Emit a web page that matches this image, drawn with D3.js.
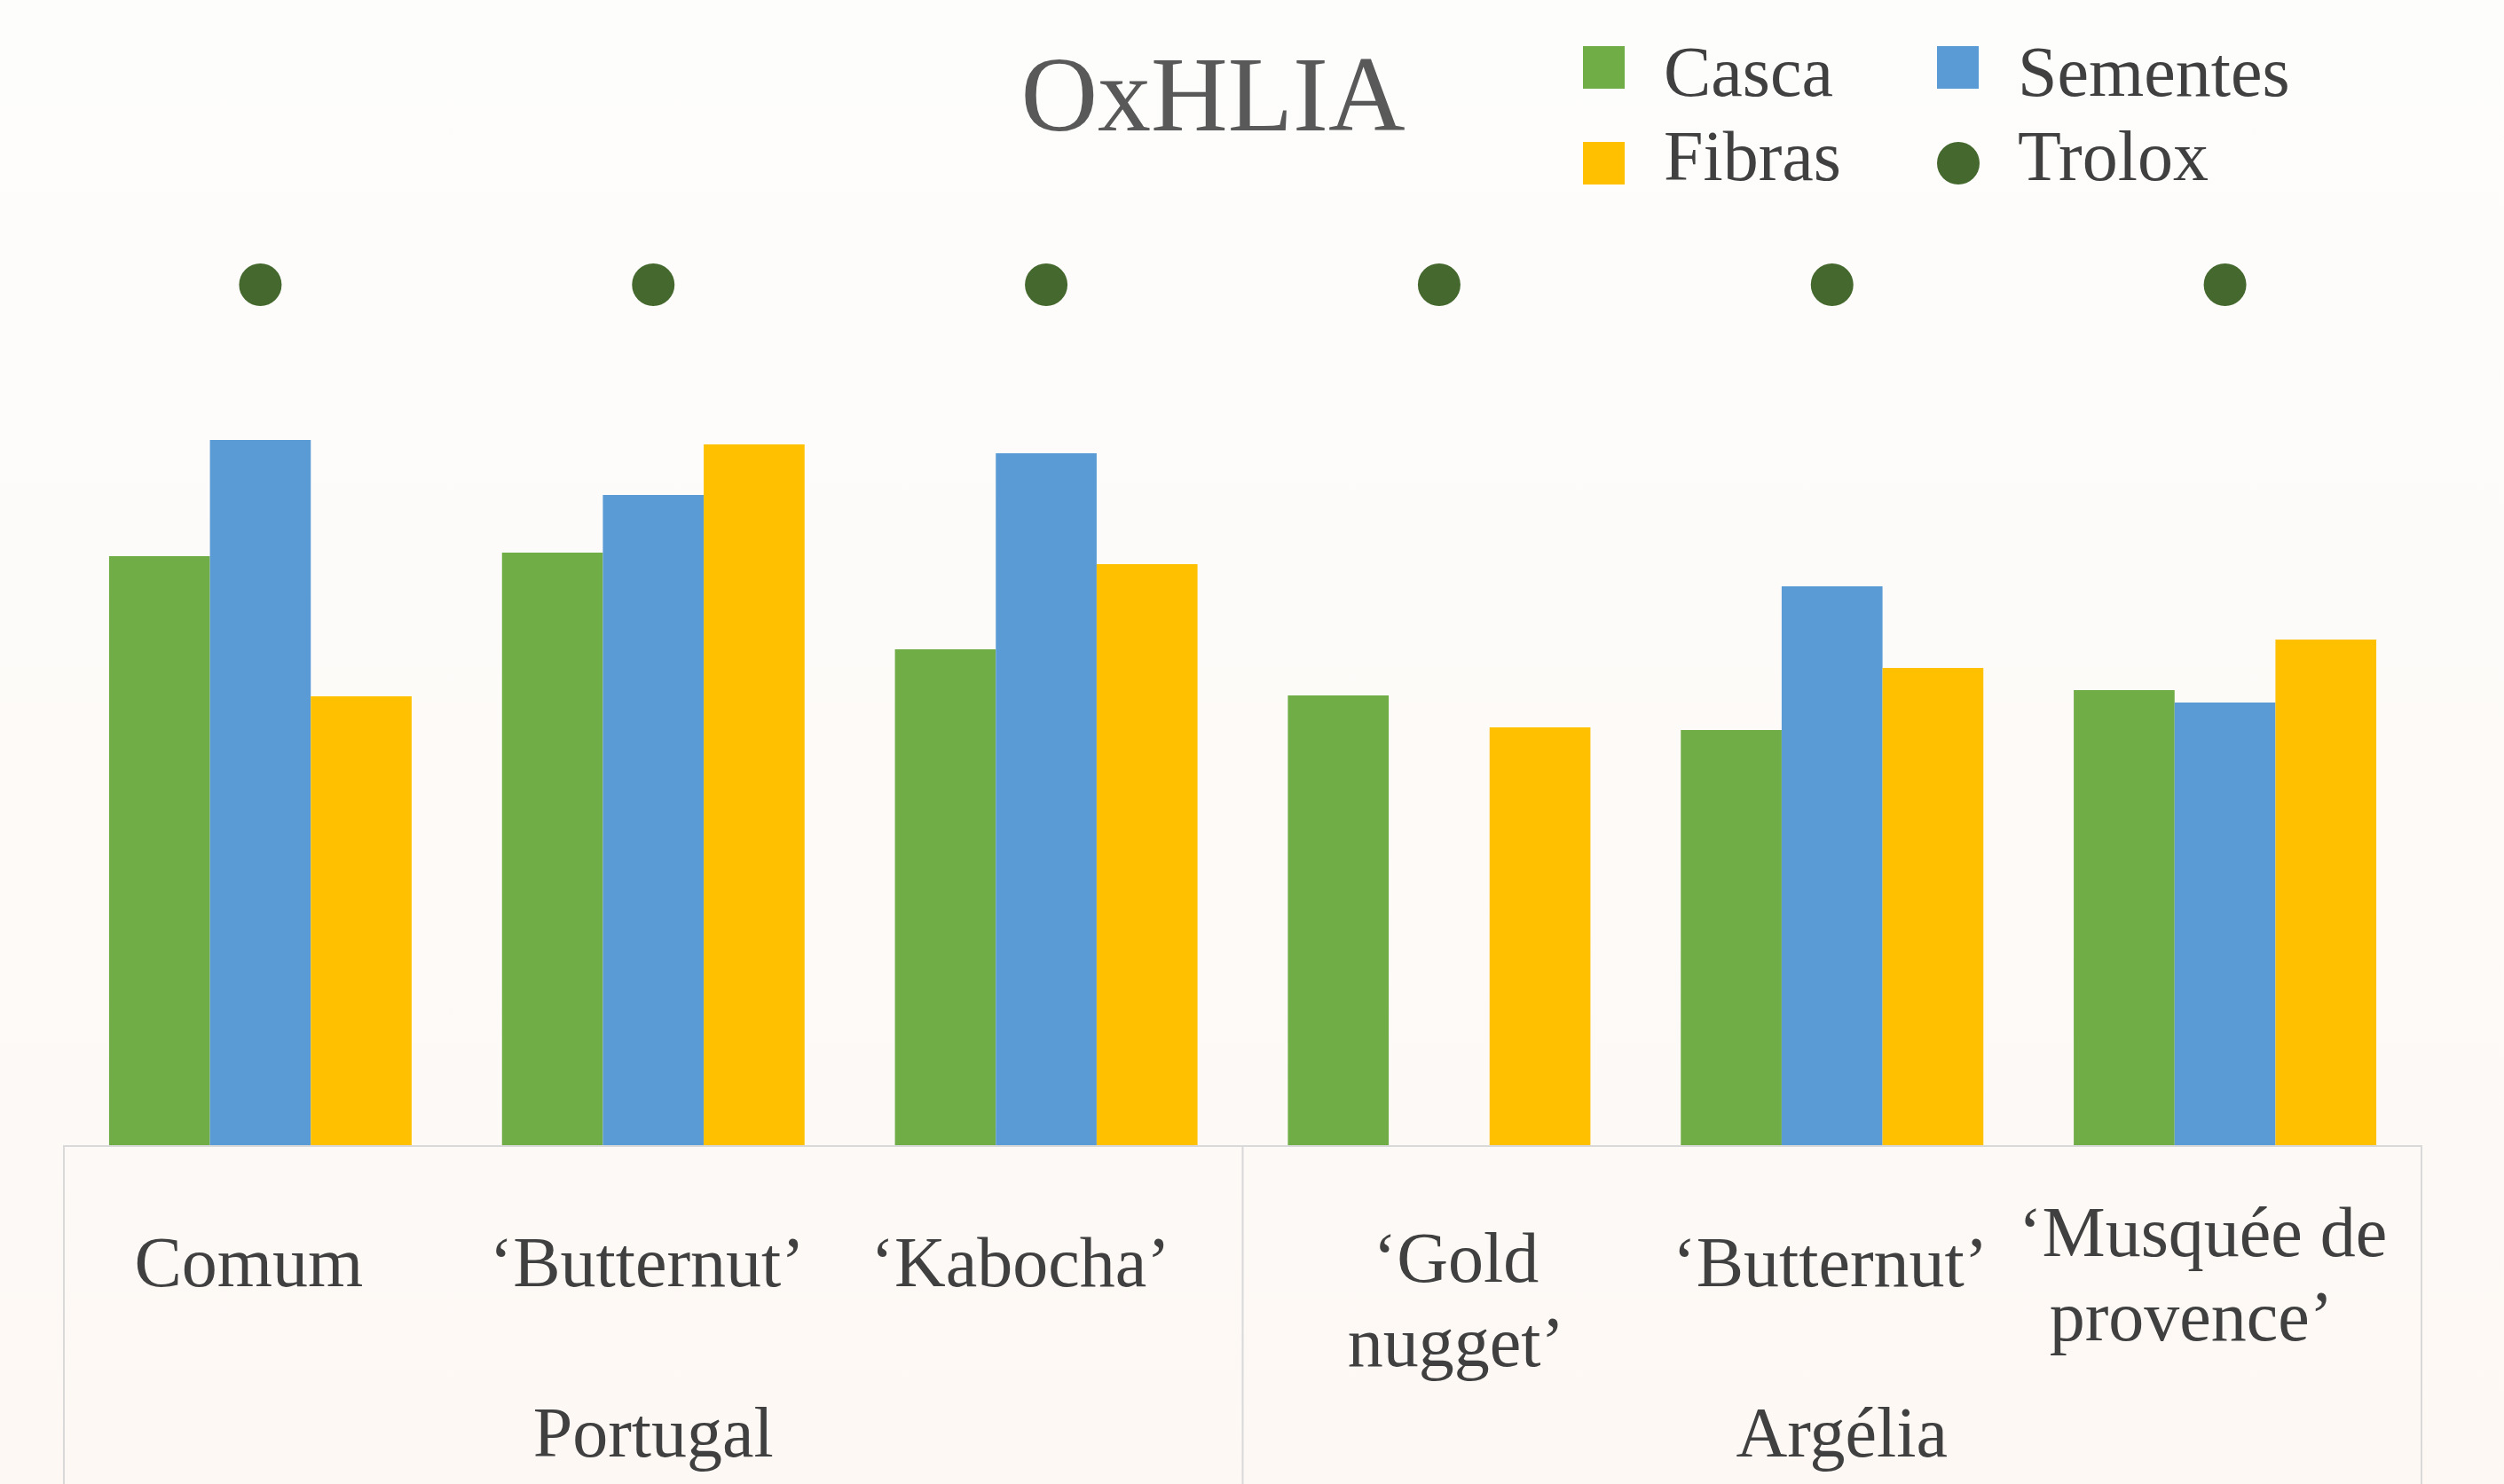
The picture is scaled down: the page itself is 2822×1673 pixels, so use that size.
<!DOCTYPE html>
<html>
<head>
<meta charset="utf-8">
<script src="https://cdn.jsdelivr.net/npm/d3@7"></script>
<style>
  html, body { margin: 0; padding: 0; }
  svg { display: block; }
</style>
</head>
<body>
<svg id="chart"></svg>
<script>
"use strict";

// dados
var categorias = ["Comum", "‘Butternut’", "‘Kabocha’", "‘Gold nugget’", "‘Butternut’", "‘Musquée de provence’"];
var rotulos = [["Comum"], ["‘Butternut’"], ["‘Kabocha’"], ["‘Gold", "nugget’"], ["‘Butternut’"], ["‘Musquée de", "provence’"]];
var paises = ["Portugal", "Argélia"];
var paisDe = [0, 0, 0, 1, 1, 1];

var casca = [66.4, 66.8, 55.9, 50.7, 46.8, 51.3];
var sementes = [79.5, 73.3, 78.0, null, 63.0, 49.9];
var fibras = [50.6, 79.0, 65.5, 47.1, 53.8, 57.0];
var trolox = [97.0, 97.0, 97.0, 97.0, 97.0, 97.0];

var series = [
    { nome: "Casca", valores: casca, cor: "#70AD47" },
    { nome: "Sementes", valores: sementes, cor: "#5B9BD5" },
    { nome: "Fibras", valores: fibras, cor: "#FFC000" }
];
var corTrolox = "#44682D";

// espaço
var W = 2822, H = 1673;
var fonte = "'Liberation Serif', 'Times New Roman', serif";
var xEsq = 72, xDir = 2729, yBase = 1291;
// ajustes de posição dos rótulos (como no Excel)
var rotDx = [[-13], [-7], [-29], [19, 19], [-2], [-25, -38]];
var rotY = [1450, 1450, 1450, 1445, 1450, 1416];
var paisDx = [0, 11];

var svg = d3.select("#chart").attr("width", W).attr("height", H);

var grad = svg.append("defs").append("linearGradient")
    .attr("id", "fundo").attr("x1", 0).attr("y1", 0).attr("x2", 0).attr("y2", 1);
grad.append("stop").attr("offset", "0%").attr("stop-color", "#fdfdfc");
grad.append("stop").attr("offset", "100%").attr("stop-color", "#fdf8f4");
svg.append("rect").attr("width", W).attr("height", H).attr("fill", "url(#fundo)");

// escalas
var idx = d3.range(categorias.length);
var x0 = d3.scaleBand().domain(idx).range([xEsq, xDir]).paddingInner(0.23).paddingOuter(0.115);
var x1 = d3.scaleBand().domain(series.map(s => s.nome)).range([0, x0.bandwidth()]);
var y = d3.scaleLinear().domain([0, 100]).range([yBase, yBase - 1000]);

// barras
var grupos = svg.append("g").selectAll("g")
    .data(idx).enter().append("g")
    .attr("transform", i => `translate(${x0(i)},0)`);

grupos.selectAll("rect")
    .data(i => series.filter(s => s.valores[i] != null).map(s => ({ s: s, v: s.valores[i] })))
    .enter().append("rect")
    .attr("x", d => x1(d.s.nome))
    .attr("y", d => y(d.v))
    .attr("width", x1.bandwidth())
    .attr("height", d => yBase - y(d.v))
    .attr("fill", d => d.s.cor);

// Trolox
svg.append("g").selectAll("circle")
    .data(idx).enter().append("circle")
    .attr("cx", i => x0(i) + x0.bandwidth() / 2)
    .attr("cy", i => y(trolox[i]))
    .attr("r", 24)
    .attr("fill", corTrolox);

// eixo x (caixa de categorias)
var passo = x0.step();
var linhas = svg.append("g").attr("stroke", "#d9d9d9").attr("stroke-width", 2);
linhas.append("line").attr("x1", xEsq).attr("x2", xDir).attr("y1", yBase + 1).attr("y2", yBase + 1);
var limites = [xEsq, xEsq + passo * 3, xDir];
limites.forEach(function(xx) {
    linhas.append("line").attr("x1", xx).attr("x2", xx).attr("y1", yBase).attr("y2", H);
});

var rot = svg.append("g")
    .attr("font-family", fonte).attr("font-size", 80).attr("fill", "#404040")
    .attr("text-anchor", "middle");

rot.selectAll("text.cat")
    .data(idx).enter().append("text")
    .attr("class", "cat")
    .attr("y", i => rotY[i])
    .each(function(i) {
        var t = d3.select(this);
        var cx = x0(i) + x0.bandwidth() / 2;
        rotulos[i].forEach(function(l, k) {
            t.append("tspan").attr("x", cx + rotDx[i][k]).attr("dy", k ? 95 : 0).text(l);
        });
    });

rot.selectAll("text.pais")
    .data(paises).enter().append("text")
    .attr("class", "pais")
    .attr("x", (p, j) => {
        var ii = idx.filter(i => paisDe[i] === j);
        return (xEsq + passo * ii[0] + xEsq + passo * (ii[ii.length - 1] + 1)) / 2 + paisDx[j];
    })
    .attr("y", 1642)
    .text(p => p);

// título
svg.append("text")
    .attr("x", 1367).attr("y", 147)
    .attr("text-anchor", "middle")
    .attr("font-family", fonte).attr("font-size", 120)
    .attr("fill", "#595959")
    .text("OxHLIA");

// legenda
var legenda = [
    { nome: "Casca", cor: "#70AD47", tipo: "q", col: 0, lin: 0 },
    { nome: "Sementes", cor: "#5B9BD5", tipo: "q", col: 1, lin: 0 },
    { nome: "Fibras", cor: "#FFC000", tipo: "q", col: 0, lin: 1 },
    { nome: "Trolox", cor: corTrolox, tipo: "c", col: 1, lin: 1 }
];
var leg = svg.append("g").attr("font-family", fonte).attr("font-size", 80).attr("fill", "#404040");
legenda.forEach(function(d) {
    var lx = 1784 + d.col * 399;
    var ly = 52 + d.lin * 108;
    if (d.tipo === "q") {
        leg.append("rect").attr("x", lx).attr("y", ly).attr("width", 47).attr("height", 48).attr("fill", d.cor);
    } else {
        leg.append("circle").attr("cx", lx + 24).attr("cy", ly + 24).attr("r", 24).attr("fill", d.cor);
    }
    leg.append("text").attr("x", lx + 91).attr("y", 108 + d.lin * 95).text(d.nome);
});
</script>
</body>
</html>
